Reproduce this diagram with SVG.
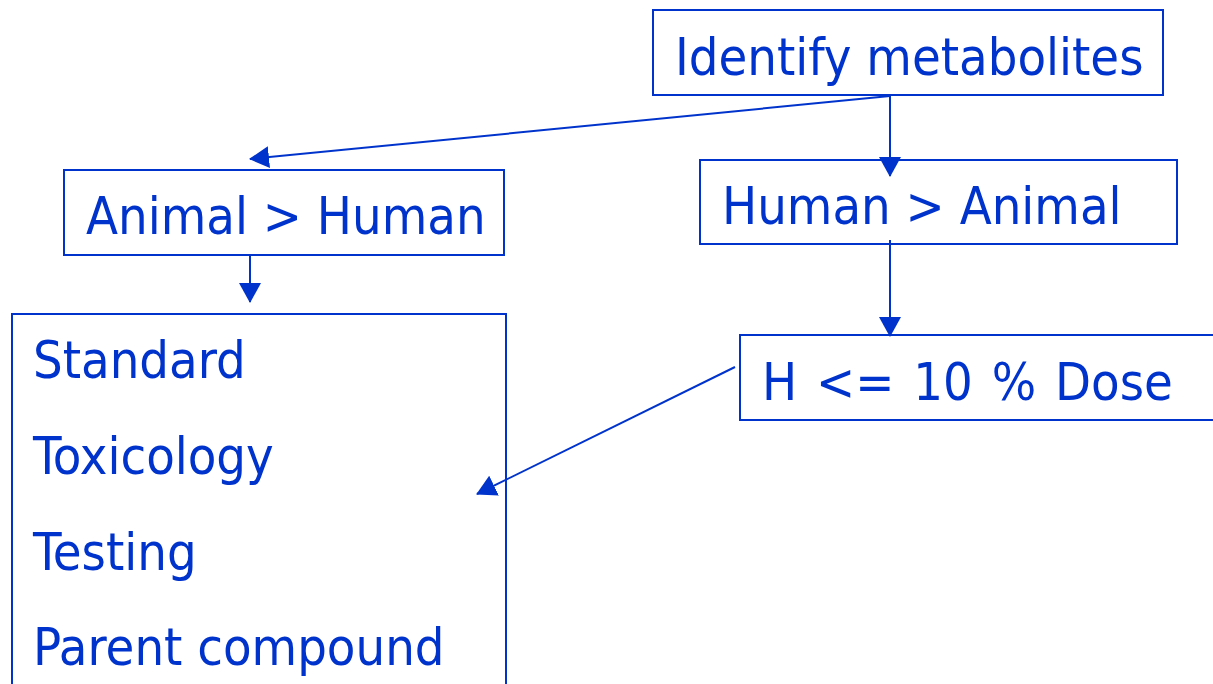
<svg xmlns="http://www.w3.org/2000/svg" width="1213" height="684" viewBox="0 0 1213 684">
<style>
.box{fill:#fff;stroke:#0033CC;stroke-width:2}
.t{font-family:"DejaVu Sans Condensed","DejaVu Sans",sans-serif;font-stretch:condensed;font-size:52px;fill:#0033CC}
.c{stroke:#0033CC;stroke-width:2;fill:none;marker-end:url(#ah)}
</style>
<defs>
<marker id="ah" markerUnits="userSpaceOnUse" markerWidth="20" markerHeight="22" viewBox="0 0 20 22" refX="19" refY="11" orient="auto">
<path d="M0,0 L20,11 L0,22 z" fill="#0033CC"/>
</marker>
</defs>
<rect width="1213" height="684" fill="#fff"/>
<g id="n1"><rect class="box" x="653" y="10" width="510" height="85"/><text class="t" x="675" y="75">Identify metabolites</text></g>
<g id="n2"><rect class="box" x="64" y="170" width="440" height="85"/><text class="t" x="86" y="234">Animal &gt; Human</text></g>
<g id="n3"><rect class="box" x="700" y="160" width="477" height="84"/><text class="t" x="722" y="224">Human &gt; Animal</text></g>
<g id="n4"><rect class="box" x="740" y="335" width="480" height="85"/><text class="t" x="762" y="400" word-spacing="4">H &lt;= 10 % Dose</text></g>
<g id="n5"><rect class="box" x="12" y="314" width="494" height="380"/>
<text class="t" x="33" y="378">Standard</text>
<text class="t" x="33" y="474">Toxicology</text>
<text class="t" x="33" y="570">Testing</text>
<text class="t" x="33" y="665">Parent compound</text></g>
<g id="connectors">
<line class="c" x1="890" y1="96" x2="250" y2="159"/>
<line class="c" x1="890" y1="96" x2="890" y2="176"/>
<line class="c" x1="250" y1="256" x2="250" y2="302"/>
<line class="c" x1="890" y1="240" x2="890" y2="336"/>
<line class="c" x1="735" y1="367" x2="477" y2="494"/>
</g>
</svg>
